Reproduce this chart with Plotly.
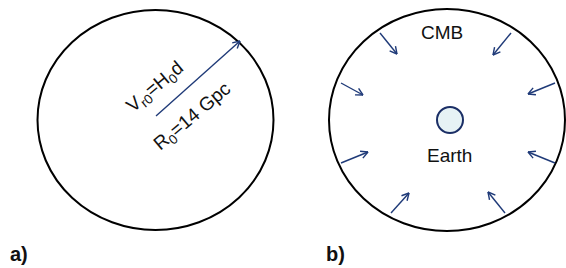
import math
import plotly.graph_objects as go

W, H = 566, 268

# Outer circles (panel a, panel b): centre and radii in pixel space
circle_cx = [155.5, 447.0]
circle_cy = [120.0, 120.0]
circle_rx = [118.0, 118.0]
circle_ry = [110.0, 111.0]

# Panel a radius arrow (start -> end)
arrow_a_start = (156, 116)
arrow_a_end = (240, 41)

# Panel b inward arrows (outer start -> inner tip)
arrows_b_x0 = [380, 511, 341, 555, 341, 555, 391, 505]
arrows_b_y0 = [33, 33, 83, 83, 163, 163, 213, 213]
arrows_b_x1 = [397, 493, 363, 528, 368, 528, 409, 488]
arrows_b_y1 = [54, 55, 95, 94, 152, 152, 193, 192]

# Earth
earth_cx, earth_cy, earth_r = 450.0, 120.0, 13.0

# Labels
labels_text = ["V<sub>r0</sub>=H<sub>0</sub>d", "R<sub>0</sub>=14 Gpc", "CMB", "Earth"]
labels_x = [155, 193, 442, 449]
labels_y = [88, 117, 32, 155]
labels_angle = [-40, -40, 0, 0]
labels_size = [19, 19, 19, 19]

panel_labels = ["a)", "b)"]
panel_lx = [19, 335]
panel_ly = [254, 254]

ARROW_COLOR = "#1f3a78"

fig = go.Figure()

def arrow_trace(x0, y0, x1, y1, head=8, spread=28):
    ang = math.atan2(y1 - y0, x1 - x0)
    xs = [x0, x1, None]
    ys = [y0, y1, None]
    for s in (spread, -spread):
        a = ang + math.pi + math.radians(s)
        xs += [x1, x1 + head * math.cos(a), None]
        ys += [y1, y1 + head * math.sin(a), None]
    return xs, ys

ax, ay = [], []
xs, ys = arrow_trace(*arrow_a_start, *arrow_a_end)
ax += xs; ay += ys
for x0, y0, x1, y1 in zip(arrows_b_x0, arrows_b_y0, arrows_b_x1, arrows_b_y1):
    xs, ys = arrow_trace(x0, y0, x1, y1)
    ax += xs; ay += ys

fig.add_trace(go.Scatter(x=ax, y=ay, mode="lines",
                         line=dict(color=ARROW_COLOR, width=1.4),
                         hoverinfo="skip", showlegend=False))

for cx, cy, rx, ry in zip(circle_cx, circle_cy, circle_rx, circle_ry):
    fig.add_shape(type="circle", xref="x", yref="y",
                  x0=cx - rx, x1=cx + rx, y0=cy - ry, y1=cy + ry,
                  line=dict(color="black", width=2), layer="below")

fig.add_shape(type="circle", xref="x", yref="y",
              x0=earth_cx - earth_r, x1=earth_cx + earth_r,
              y0=earth_cy - earth_r, y1=earth_cy + earth_r,
              fillcolor="#e6f2f5", line=dict(color="#1b2f66", width=2))

for t, x, y, a, s in zip(labels_text, labels_x, labels_y, labels_angle, labels_size):
    fig.add_annotation(text=t, x=x, y=y, xref="x", yref="y", showarrow=False,
                       textangle=a,
                       font=dict(family="Liberation Sans, Arial", size=s, color="#111111"))

for t, x, y in zip(panel_labels, panel_lx, panel_ly):
    fig.add_annotation(text="<b>" + t + "</b>", x=x, y=y, xref="x", yref="y",
                       showarrow=False,
                       font=dict(family="Liberation Sans, Arial", size=20, color="#111111"))

fig.update_layout(
    width=W, height=H,
    margin=dict(l=0, r=0, t=0, b=0),
    paper_bgcolor="white", plot_bgcolor="white",
    xaxis=dict(range=[0, W], visible=False, fixedrange=True),
    yaxis=dict(range=[H, 0], visible=False, fixedrange=True),
    showlegend=False,
)

fig.write_html("out.html", config={"displayModeBar": False},
               post_script="document.body.style.margin='0';document.body.style.overflow='hidden';")
